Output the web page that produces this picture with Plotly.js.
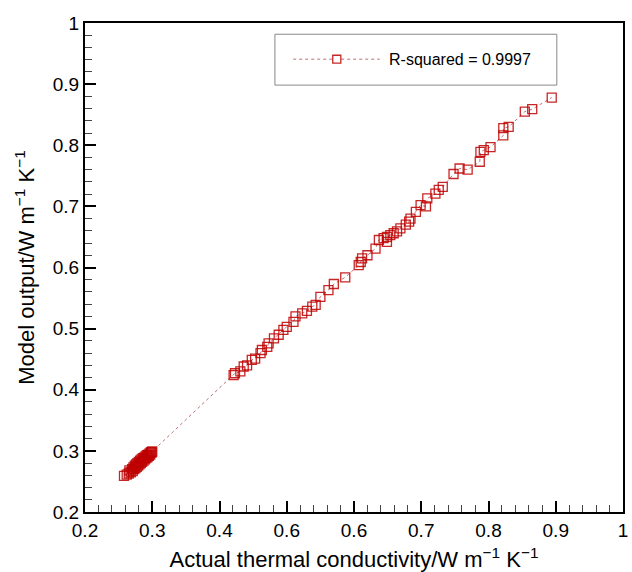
<!DOCTYPE html>
<html>
<head>
<meta charset="utf-8">
<script src="https://cdn.plot.ly/plotly-3.0.1.min.js"></script>
<style>html,body{margin:0;padding:0;background:#fff;}#chart{width:632px;height:572px;}</style>
</head>
<body>
<div id="chart"></div>
<script>
// Actual thermal conductivity (x) vs model output (y), W m^-1 K^-1
const actualK = [
  0.258, 0.262, 0.265, 0.266, 0.268, 0.270, 0.271, 0.272, 0.273, 0.274,
  0.275, 0.276, 0.277, 0.278, 0.279, 0.280, 0.281, 0.282, 0.283, 0.284,
  0.285, 0.286, 0.287, 0.288, 0.289, 0.290, 0.291, 0.292, 0.293, 0.294,
  0.295, 0.296, 0.297, 0.298, 0.299, 0.300,
  0.421, 0.423, 0.431, 0.436, 0.441, 0.448, 0.453, 0.461, 0.463, 0.471,
  0.473, 0.481, 0.488, 0.495, 0.500, 0.510, 0.513, 0.523, 0.530, 0.538,
  0.543, 0.550, 0.562, 0.570, 0.587, 0.607, 0.610, 0.612, 0.620, 0.632,
  0.637, 0.644, 0.649, 0.649, 0.654, 0.659, 0.664, 0.669, 0.677, 0.682,
  0.684, 0.692, 0.699, 0.707, 0.709, 0.721, 0.726, 0.732, 0.748, 0.757,
  0.769, 0.787, 0.788, 0.793, 0.803, 0.822, 0.822, 0.830, 0.854, 0.865,
  0.894
];
const modelK = [
  0.259, 0.261, 0.263, 0.268, 0.265, 0.270, 0.267, 0.273, 0.270, 0.276,
  0.272, 0.278, 0.274, 0.280, 0.276, 0.282, 0.278, 0.284, 0.280, 0.286,
  0.282, 0.288, 0.284, 0.289, 0.286, 0.291, 0.288, 0.293, 0.290, 0.294,
  0.292, 0.296, 0.294, 0.298, 0.297, 0.299,
  0.424, 0.427, 0.430, 0.438, 0.440, 0.449, 0.451, 0.460, 0.465, 0.470,
  0.476, 0.484, 0.490, 0.498, 0.503, 0.511, 0.520, 0.525, 0.529, 0.536,
  0.539, 0.552, 0.563, 0.573, 0.584, 0.604, 0.609, 0.615, 0.620, 0.631,
  0.645, 0.648, 0.642, 0.650, 0.653, 0.656, 0.659, 0.664, 0.670, 0.675,
  0.680, 0.691, 0.702, 0.700, 0.713, 0.721, 0.727, 0.732, 0.753, 0.762,
  0.760, 0.773, 0.789, 0.792, 0.797, 0.816, 0.828, 0.830, 0.855, 0.859,
  0.878
];
const seriesName = "R-squared = 0.9997";
const xTickVals = [0.2, 0.3, 0.4, 0.5, 0.6, 0.7, 0.8, 0.9, 1];
const xTickText = ["0.2", "0.3", "0.4", "0.6", "0.6", "0.7", "0.8", "0.9", "1"];
const yTickVals = [0.2, 0.3, 0.4, 0.5, 0.6, 0.7, 0.8, 0.9, 1];
const yTickText = ["0.2", "0.3", "0.4", "0.5", "0.6", "0.7", "0.8", "0.9", "1"];

const FONT = '"Liberation Sans", Arial, Helvetica, sans-serif';
const markerColor = 'rgba(190,0,0,0.85)';
const lineColor = 'rgba(175,75,80,0.8)';

const trace = {
  type: 'scatter',
  mode: 'lines+markers',
  name: seriesName,
  x: actualK,
  y: modelK,
  line: {color: lineColor, width: 1, dash: '3px,3px'},
  marker: {symbol: 'square-open', size: 9, color: markerColor, line: {width: 1.3, color: markerColor}},
  showlegend: false
};

const axisCommon = {
  range: [0.2, 1],
  showgrid: false,
  zeroline: false,
  showline: true,
  linecolor: '#000',
  linewidth: 2,
  mirror: true,
  ticks: 'inside',
  ticklen: 11,
  tickwidth: 2,
  tickcolor: '#000',
  tickfont: {family: FONT, size: 19, color: '#000'},
  tickmode: 'array',
  minor: {tickmode: 'linear', tick0: 0.2, dtick: 0.02, ticks: 'inside', ticklen: 7, tickwidth: 1, tickcolor: '#444', showgrid: false}
};

const layout = {
  width: 632,
  height: 572,
  margin: {l: 85, r: 9, t: 23, b: 60},
  paper_bgcolor: '#fff',
  plot_bgcolor: '#fff',
  font: {family: FONT, color: '#000'},
  showlegend: false,
  xaxis: Object.assign({}, axisCommon, {
    tickvals: xTickVals,
    ticktext: xTickText,
    title: {text: 'Actual thermal conductivity/W m<sup>−1</sup> K<sup>−1</sup>', font: {family: FONT, size: 22, color: '#000'}, standoff: 12}
  }),
  yaxis: Object.assign({}, axisCommon, {
    tickvals: yTickVals,
    ticktext: yTickText,
    title: {text: 'Model output/W m<sup>−1</sup> K<sup>−1</sup>', font: {family: FONT, size: 22, color: '#000'}, standoff: 12}
  }),
  shapes: [
    {type: 'rect', xref: 'paper', yref: 'paper', x0: 0.353, x1: 0.877, y0: 0.873, y1: 0.977,
     line: {color: '#888', width: 1}, fillcolor: '#fff', layer: 'above'},
    {type: 'line', xref: 'paper', yref: 'paper', x0: 0.387, x1: 0.548, y0: 0.926, y1: 0.926,
     line: {color: lineColor, width: 1, dash: '3px,3px'}, layer: 'above'},
    {type: 'rect', xref: 'paper', yref: 'paper', x0: 0.4605, x1: 0.4755, y0: 0.918, y1: 0.934,
     line: {color: markerColor, width: 1.3}, fillcolor: '#fff', layer: 'above'}
  ],
  annotations: [
    {xref: 'paper', yref: 'paper', x: 0.561, y: 0.926, xanchor: 'left', yanchor: 'middle',
     text: seriesName, showarrow: false, font: {family: FONT, size: 16, color: '#000'}}
  ]
};

Plotly.newPlot('chart', [trace], layout, {displayModeBar: false, staticPlot: true});
</script>
</body>
</html>
